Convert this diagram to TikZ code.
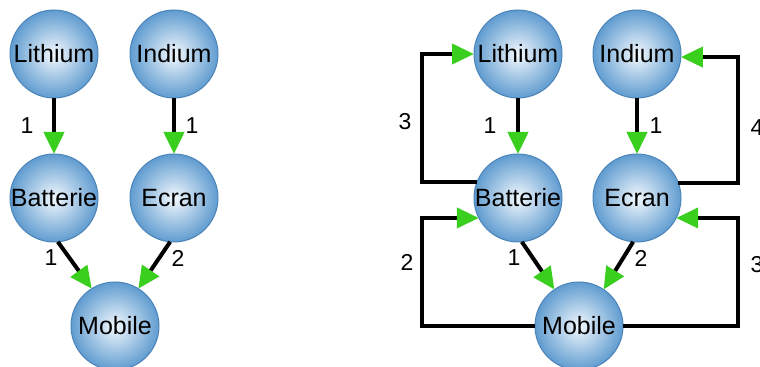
\documentclass[tikz,border=0pt]{standalone}
\usepackage{fontspec}
\setmainfont{Liberation Sans}
\usetikzlibrary{arrows.meta}
\definecolor{ballblue}{RGB}{96,156,208}
\definecolor{ballcore}{RGB}{242,248,253}
\definecolor{ballrim}{RGB}{76,132,186}
\definecolor{tipgreen}{RGB}{58,206,30}
\tikzset{
  part/.style={circle, minimum size=44pt, inner sep=0pt, outer sep=0pt,
    draw=ballrim, line width=0.5pt, inner color=ballcore, outer color=ballblue,
    font=\fontsize{12.5}{15}\selectfont},
  link/.style={line width=2pt, -{Triangle[length=11pt,width=10pt,color=tipgreen]}},
  qty/.style={inner sep=0pt, font=\fontsize{11.5}{14}\selectfont}
}
\begin{document}
\begin{tikzpicture}[x=0.5pt, y=-0.5pt]
	\useasboundingbox (0,0) rectangle (760,367);
	\clip (0,0) rectangle (760,367);
	% Parts and links, first tree:
	\node[part] (lit) at (54,54) {Lithium};
	\node[part] (ind) at (174,54) {Indium};
	\node[part] (bat) at (54,198) {Batterie};
	\node[part] (ecr) at (174,198) {Ecran};
	\node[part] (mob) at (115,326) {Mobile};
	\draw[link] (lit) -- (bat);
	\draw[link] (ind) -- (ecr);
	\draw[link] (bat.-85) -- (mob.122);
	\draw[link] (ecr.-95) -- (mob.58);
	\node[qty] (q1) at (27,126) {1};
	\node[qty] (q2) at (192,126) {1};
	\node[qty] (q3) at (51,258) {1};
	\node[qty] (q4) at (178,258) {2};
	% Parts and links, second tree with returns:
	\node[part] (litB) at (518,54) {Lithium};
	\node[part] (indB) at (637,54) {Indium};
	\node[part] (batB) at (518,198) {Batterie};
	\node[part] (ecrB) at (637,198) {Ecran};
	\node[part] (mobB) at (579,326) {Mobile};
	\coordinate (westx) at (422,0);
	\coordinate (eastx) at (738,0);
	\draw[link] (litB) -- (batB);
	\draw[link] (indB) -- (ecrB);
	\draw[link] (batB.-85) -- (mobB.124);
	\draw[link] (ecrB.-95) -- (mobB.56);
	\draw[link] (batB.159) -- (batB.159 -| westx) |- (litB.west);
	\draw[link] (ecrB.20) -- (ecrB.20 -| eastx) |- (indB.-4);
	\draw[link] (mobB.west) -- (mobB.west -| westx) |- (batB.207);
	\draw[link] (mobB.east) -- (mobB.east -| eastx) |- (ecrB.-27);
	\node[qty] (r1) at (490,126) {1};
	\node[qty] (r2) at (656,126) {1};
	\node[qty] (r3) at (514,258) {1};
	\node[qty] (r4) at (641,258) {2};
	\node[qty] (r5) at (405,122) {3};
	\node[qty] (r6) at (407,262) {2};
	\node[qty] (r7) at (757,128) {4};
	\node[qty] (r8) at (757,265) {3};
\end{tikzpicture}
\end{document}
